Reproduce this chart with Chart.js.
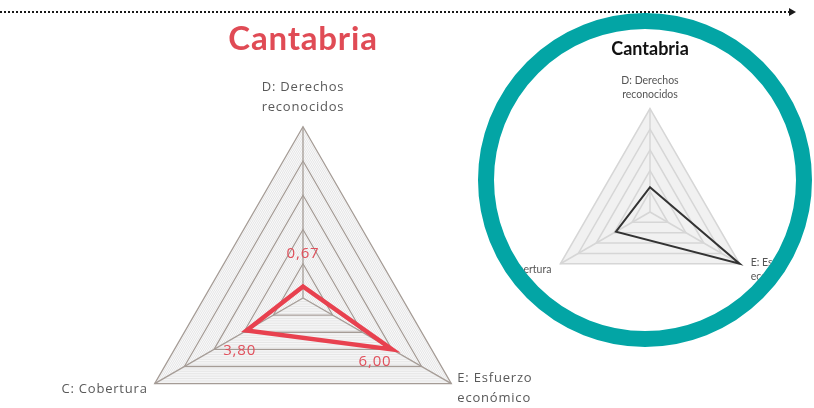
<!DOCTYPE html>
<html><head><meta charset="utf-8">
<script src="https://cdn.jsdelivr.net/npm/chart.js@4.4.0/dist/chart.umd.min.js"></script>
<style>
html,body{margin:0;padding:0;background:#fff;width:814px;height:408px;overflow:hidden;position:relative;}
#mainWrap{position:absolute;left:0;top:0;width:606px;height:496px;}
#ring{position:absolute;left:478px;top:13px;width:302px;height:302px;border:16px solid #03a5a5;border-radius:50%;overflow:hidden;background:#fff;}
#insetWrap{position:absolute;left:-44px;top:-9px;width:400px;height:315px;}
#dots{position:absolute;left:0;top:11px;width:790px;height:0;border-top:2px dotted #1a1a1a;z-index:5;}
#arrow{position:absolute;left:789px;top:8px;width:0;height:0;border-top:4px solid transparent;border-bottom:4px solid transparent;border-left:7px solid #1a1a1a;z-index:5;}
</style>
</head>
<body>
<div id="mainWrap"><canvas id="main" width="606" height="496"></canvas></div>
<div id="ring"><div id="insetWrap"><canvas id="inset" width="400" height="315"></canvas></div></div>
<div id="dots"></div><div id="arrow"></div>
<script>
// ---- data ----
const titleText = 'Cantabria';
const categories = [['D: Derechos', 'reconocidos'], ['E: Esfuerzo', 'económico'], ['C: Cobertura']];
const mainValues = [0.67, 6.00, 3.80];
const mainValueLabels = ['0,67', '6,00', '3,80'];
const insetValues = [2.4, 10, 3.8];
const scaleMin = 0;
const scaleMax = 10;

// ---- plugins ----
const spacingPlugin = {
  id: 'spacing',
  beforeDraw(chart, args, opts) { if (opts.value) chart.ctx.letterSpacing = opts.value; }
};
const polyFillPlugin = {
  id: 'polyFill',
  beforeDraw(chart, args, opts) {
    const s = chart.scales.r; const n = chart.data.labels.length;
    const d = s.getDistanceFromCenterForValue(s.max); const ctx = chart.ctx;
    ctx.save(); ctx.beginPath();
    for (let i = 0; i < n; i++) { const p = s.getPointPosition(i, d); if (i) ctx.lineTo(p.x, p.y); else ctx.moveTo(p.x, p.y); }
    ctx.closePath(); ctx.fillStyle = opts.color; ctx.fill(); ctx.restore();
  }
};
const sideLabelPlugin = {
  id: 'sideLabels',
  afterLayout(chart, args, opts) {
    const s = chart.scales.r; const items = s._pointLabelItems;
    if (!items || !opts.adjust) return;
    opts.adjust.forEach((a, i) => {
      if (!a || !items[i]) return;
      const v = s.getPointPosition(i, s.drawingArea); const it = items[i];
      const dx = v.x + a[0] - it.x, dy = v.y + a[1] - it.y;
      it.x += dx; it.y += dy; it.left += dx; it.right += dx; it.top += dy; it.bottom += dy;
    });
  }
};
const valueLabelPlugin = {
  id: 'valueLabels',
  afterDatasetsDraw(chart, args, opts) {
    if (!opts.labels) return;
    const meta = chart.getDatasetMeta(0); const ctx = chart.ctx;
    ctx.save(); ctx.font = opts.font; ctx.fillStyle = opts.color; ctx.textAlign = 'center'; ctx.textBaseline = 'middle';
    meta.data.forEach((pt, i) => { const o = opts.offsets[i]; ctx.fillText(opts.labels[i], pt.x + o[0], pt.y + o[1]); });
    ctx.restore();
  }
};
const isMajor = v => Math.abs(v / 2 - Math.round(v / 2)) < 1e-6;

new Chart(document.getElementById('main'), {
  type: 'radar',
  data: { labels: categories, datasets: [{ data: mainValues, borderColor: '#e8414f', borderWidth: 4.5, backgroundColor: 'transparent', fill: false, pointRadius: 0, borderJoinStyle: 'miter', tension: 0 }] },
  plugins: [spacingPlugin, polyFillPlugin, sideLabelPlugin, valueLabelPlugin],
  options: {
    responsive: false, animation: false, devicePixelRatio: 1,
    layout: { padding: 0 },
    plugins: {
      legend: { display: false }, tooltip: { enabled: false },
      spacing: { value: '0.8px' },
      title: { display: true, text: titleText, color: '#e04b55', font: { family: 'Lato', size: 33, weight: 'bold', lineHeight: 1 }, padding: { top: 22.5, bottom: -2.25 } },
      polyFill: { color: '#fbfbfc' },
      sideLabels: { adjust: [null, [6, -15.5], [-7, -4.5]] },
      valueLabels: { labels: mainValueLabels, offsets: [[0, -33], [-17, 12], [-7, 20]], font: '15px "Open Sans"', color: '#e0505c' }
    },
    scales: { r: {
      min: scaleMin, max: scaleMax,
      ticks: { display: false, stepSize: 0.2 },
      grid: { circular: false, color: c => isMajor(c.tick.value) ? '#a59c96' : '#e6e6e6', lineWidth: c => isMajor(c.tick.value) ? 1.3 : 1 },
      angleLines: { color: '#a59c96', lineWidth: 1.3 },
      pointLabels: { font: { family: 'Open Sans', size: 13, lineHeight: '20px' }, color: '#595959', padding: 9.5 }
    } }
  }
});

new Chart(document.getElementById('inset'), {
  type: 'radar',
  data: { labels: categories, datasets: [{ data: insetValues, borderColor: '#333333', borderWidth: 2, backgroundColor: 'transparent', fill: false, pointRadius: 0, borderJoinStyle: 'miter', tension: 0 }] },
  plugins: [polyFillPlugin, sideLabelPlugin],
  options: {
    responsive: false, animation: false, devicePixelRatio: 1,
    layout: { padding: 0 },
    plugins: {
      legend: { display: false }, tooltip: { enabled: false },
      title: { display: true, text: titleText, color: '#111111', font: { family: 'Lato', size: 18, weight: 'bold', lineHeight: 1 }, padding: { top: 20, bottom: -1.5 } },
      polyFill: { color: '#f1f1f1' },
      sideLabels: { adjust: [null, [11, -8], [-9, -1]] }
    },
    scales: { r: {
      min: scaleMin, max: scaleMax,
      ticks: { display: false, stepSize: 2 },
      grid: { circular: false, color: '#d6d6d6', lineWidth: 1.5 },
      angleLines: { color: '#d6d6d6', lineWidth: 1.5 },
      pointLabels: { font: { family: 'Lato', size: 10.5, lineHeight: '14px' }, color: '#555555', padding: 7 }
    } }
  }
});
</script>
</body></html>
